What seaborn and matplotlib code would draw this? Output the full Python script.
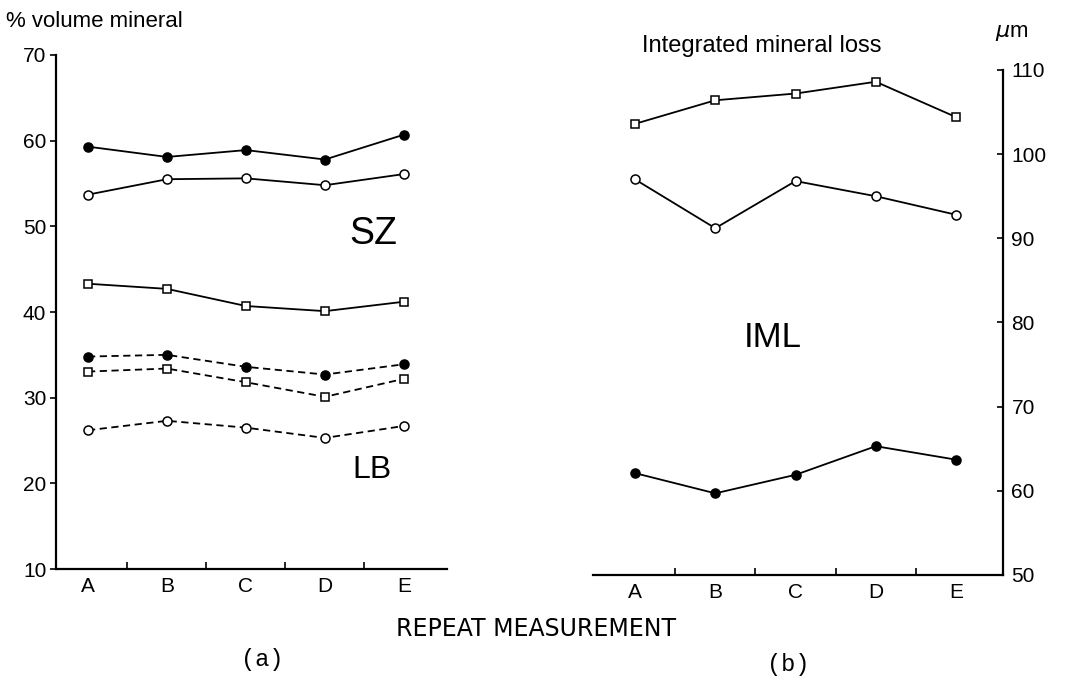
import numpy as np
import pandas as pd
import matplotlib
matplotlib.use("Agg")
import matplotlib.pyplot as plt
import seaborn as sns

categories = ["A", "B", "C", "D", "E"]

# Panel (a): % volume mineral
sz_filled = [59.3, 58.1, 58.9, 57.8, 60.7]
sz_open = [53.7, 55.5, 55.6, 54.8, 56.1]
sz_square = [43.3, 42.7, 40.7, 40.1, 41.2]
lb_filled = [34.8, 35.0, 33.6, 32.7, 33.9]
lb_square = [33.05, 33.4, 31.8, 30.1, 32.2]
lb_open = [26.2, 27.3, 26.5, 25.3, 26.7]
left_yticks = [10, 20, 30, 40, 50, 60, 70]

# Panel (b): integrated mineral loss (um)
iml_square = [103.6, 106.4, 107.2, 108.6, 104.4]
iml_open = [97.0, 91.2, 96.8, 95.0, 92.8]
iml_filled = [62.1, 59.7, 61.9, 65.3, 63.7]
right_yticks = [50, 60, 70, 80, 90, 100, 110]

sns.set_theme(style="white")
plt.rcParams['font.family'] = ['Liberation Sans', 'DejaVu Sans']
plt.rcParams['text.color'] = 'black'
plt.rcParams['xtick.color'] = 'black'
plt.rcParams['ytick.color'] = 'black'
plt.rcParams['xtick.labelcolor'] = 'black'
plt.rcParams['ytick.labelcolor'] = 'black'

fig = plt.figure(figsize=(10.67, 6.84), dpi=100)
axl = fig.add_axes([0.0525, 0.1681, 0.3664, 0.7515])
axr = fig.add_axes([0.5558, 0.1594, 0.3843, 0.7383])

pos = np.arange(len(categories))


def draw(ax, vals, marker, filled, dashed):
    df = pd.DataFrame({"x": pos, "y": vals})
    ms = 6.5 if marker == "o" else 5.5
    sns.lineplot(data=df, x="x", y="y", ax=ax, color="black",
                 linewidth=1.3,
                 linestyle=(0, (4, 2.5)) if dashed else "-",
                 marker=marker, markersize=ms,
                 markerfacecolor="black" if filled else "white",
                 markeredgecolor="black", markeredgewidth=1.1)


draw(axl, sz_filled, "o", True, False)
draw(axl, sz_open, "o", False, False)
draw(axl, sz_square, "s", False, False)
draw(axl, lb_filled, "o", True, True)
draw(axl, lb_square, "s", False, True)
draw(axl, lb_open, "o", False, True)

draw(axr, iml_square, "s", False, False)
draw(axr, iml_open, "o", False, False)
draw(axr, iml_filled, "o", True, False)

axl.set_xlim(-0.405, 4.545)
axr.set_xlim(-0.523, 4.586)

for ax in (axl, axr):
    ax.set_xticks(pos)
    ax.set_xticklabels(categories, fontsize=15)
    ax.set_xticks(pos[:-1] + 0.5, minor=True)
    ax.tick_params(axis="x", which="major", length=0, pad=6)
    ax.tick_params(axis="x", which="minor", direction="in", length=5,
                   width=1.2, color="black", bottom=True)
    ax.set_xlabel("")
    ax.set_ylabel("")
    ax.spines["top"].set_visible(False)
    for s in ax.spines.values():
        s.set_color("black")
        s.set_linewidth(1.6)
    ax.grid(False)

axl.spines["right"].set_visible(False)
axl.set_ylim(10, 70)
axl.set_yticks(left_yticks)
axl.set_yticklabels([str(t) for t in left_yticks], fontsize=15)
axl.tick_params(axis="y", direction="out", length=4, width=1.2,
                color="black", left=True, pad=3)

axr.spines["left"].set_visible(False)
axr.set_ylim(50, 110)
axr.yaxis.tick_right()
axr.set_yticks(right_yticks)
axr.set_yticklabels([str(t) for t in right_yticks], fontsize=15)
axr.tick_params(axis="y", direction="in", length=4, width=1.2,
                color="black", right=True, left=False, pad=6)

fig.text(0.0056, 0.969, "% volume mineral", fontsize=16, ha="left", va="center")
fig.text(0.6017, 0.9327, "Integrated mineral loss", fontsize=17, ha="left", va="center")
fig.text(0.9485, 0.953, r"$\mu$m", fontsize=16, ha="center", va="center")

axl.text(3.61, 49.1, "SZ", fontsize=27, ha="center", va="center")
axl.text(3.6, 21.6, "LB", fontsize=23, ha="center", va="center")
axr.text(1.71, 78.2, "IML", fontsize=25, ha="center", va="center")

fig.text(0.5023, 0.0804, "REPEAT MEASUREMENT", fontsize=17, ha="center", va="center",
         family=["DejaVu Sans"])
fig.text(0.2456, 0.036, "(a)", fontsize=17, ha="center", va="center",
         family=["Liberation Mono", "DejaVu Sans Mono"])
fig.text(0.7385, 0.029, "(b)", fontsize=17, ha="center", va="center",
         family=["Liberation Mono", "DejaVu Sans Mono"])

fig.savefig("out.png", dpi=100, facecolor="white")
